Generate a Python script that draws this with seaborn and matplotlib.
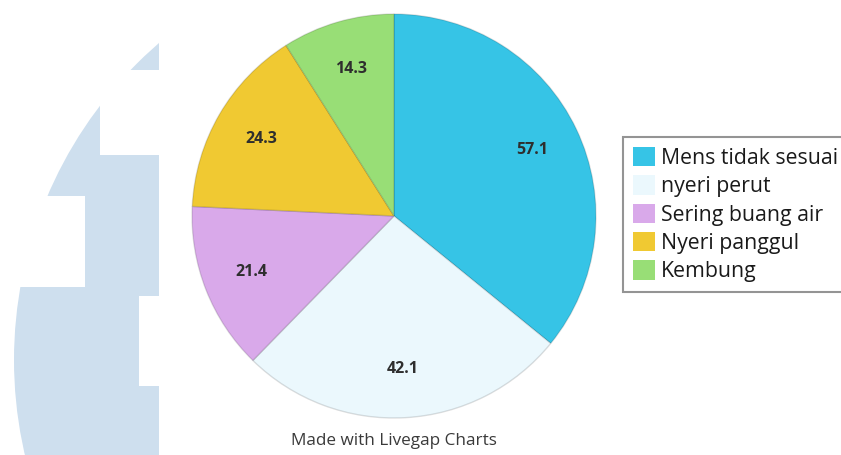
import matplotlib
matplotlib.use("Agg")
import matplotlib.pyplot as plt
import seaborn as sns
from matplotlib.patches import Circle, Rectangle, Patch

# ---- data ----
categories = ["Mens tidak sesuai", "nyeri perut", "Sering buang air", "Nyeri panggul", "Kembung"]
values = [57.1, 42.1, 21.4, 24.3, 14.3]
value_labels = ["57.1", "42.1", "21.4", "24.3", "14.3"]
colors = ["#36C4E6", "#EBF8FD", "#D9A9EA", "#F0C932", "#98DE76"]
footer = "Made with Livegap Charts"

sns.set_theme(style="white")
plt.rcParams["font.family"] = ["Open Sans", "DejaVu Sans"]

W, H = 841, 455
fig = plt.figure(figsize=(W / 100, H / 100), dpi=100)
fig.patch.set_facecolor("white")

# ---- background watermark (pixel coordinates) ----
bg = fig.add_axes([0, 0, 1, 1])
bg.set_xlim(0, W)
bg.set_ylim(H, 0)
bg.axis("off")
wm = "#CEDFEE"
clip = Rectangle((0, 0), 159, H, transform=bg.transData)
circ = Circle((433, 360), 419, facecolor=wm, edgecolor="none")
bg.add_patch(circ)
circ.set_clip_path(clip)
for (x0, y0, x1, y1) in [(100, 70, 159, 155), (0, 196, 85, 287), (139, 296, 159, 386)]:
    bg.add_patch(Rectangle((x0, y0), x1 - x0, y1 - y0, facecolor="white", edgecolor="none"))

# ---- pie ----
cx, cy, r = 394, 216, 204
ax = fig.add_axes([(cx - r) / W, (H - cy - r) / H, 2 * r / W, 2 * r / H])
wedges, texts = ax.pie(
    values,
    colors=colors,
    startangle=90,
    counterclock=False,
    labels=value_labels,
    labeldistance=0.76,
    wedgeprops=dict(edgecolor=(0, 0, 0, 0.13), linewidth=1.0),
    textprops=dict(fontsize=11.5, fontweight="bold", color="#2e2e2e"),
)
for t in texts:
    t.set_ha("center")
    t.set_va("center")
ax.set_xlim(-1.01, 1.01)
ax.set_ylim(-1.01, 1.01)
ax.set_aspect("equal")
ax.axis("off")

# ---- legend ----
handles = [Patch(facecolor=c, edgecolor="none") for c in colors]
leg = fig.legend(
    handles, categories,
    loc="upper left",
    bbox_to_anchor=(623 / W, 1 - 137 / H),
    bbox_transform=fig.transFigure,
    fontsize=15.3,
    frameon=True,
    fancybox=False,
    borderaxespad=0,
    borderpad=0.48,
    handlelength=1.02,
    handleheight=1.02,
    handletextpad=0.3,
    labelspacing=0.3,
)
fr = leg.get_frame()
fr.set_edgecolor("#7a7a7a")
fr.set_linewidth(1.5)
for t in leg.get_texts():
    t.set_color("#1a1a1a")

# ---- footer ----
fig.text(394 / W, 1 - 441 / H, footer, ha="center", va="center", fontsize=12.3, color="#3a3a3a")

fig.savefig("out.png", dpi=100)
